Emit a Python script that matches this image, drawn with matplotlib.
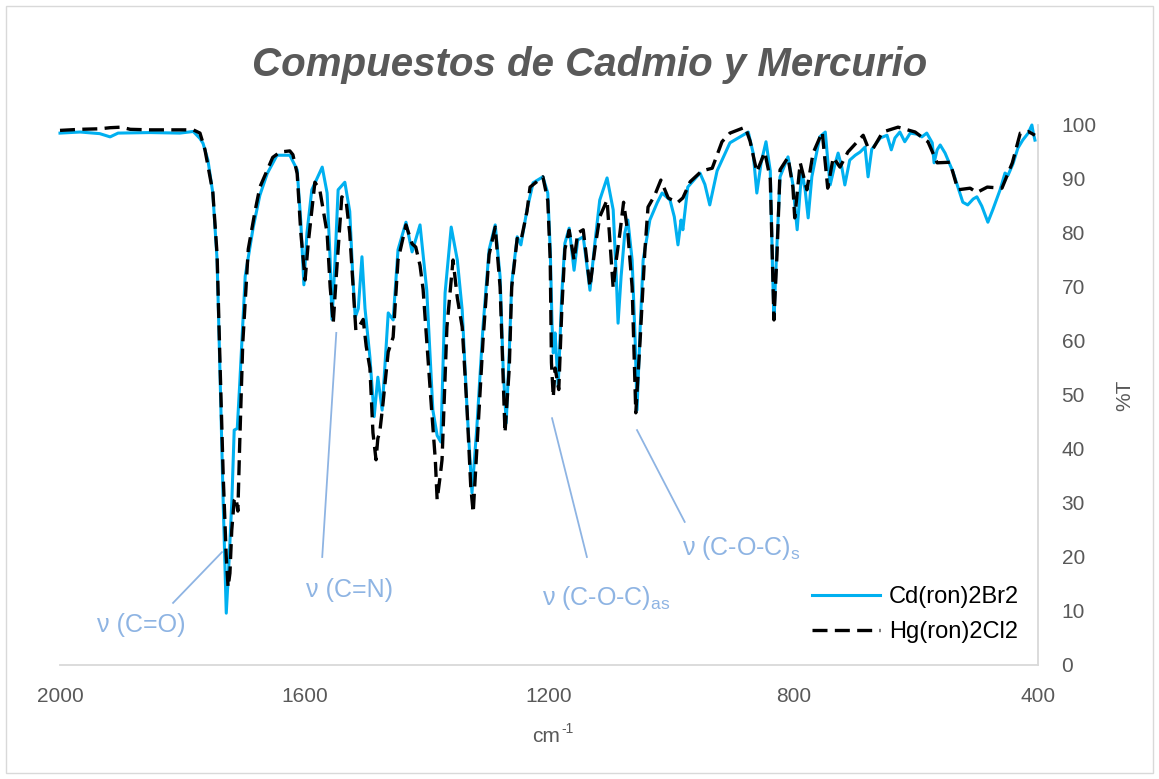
import matplotlib
matplotlib.use("Agg")
import matplotlib.pyplot as plt
from matplotlib.patches import Rectangle

# Cd(ron)2Br2 spectrum (wavenumber, %T)
CD_WN = [2000, 1967, 1935, 1918, 1905, 1853, 1804, 1782, 1771, 1766,
         1758, 1750, 1743, 1738, 1733, 1728, 1724, 1719, 1715, 1710,
         1706, 1697, 1684, 1673, 1661, 1645, 1624, 1612, 1606, 1601,
         1596, 1588, 1571, 1563, 1558, 1555, 1550, 1545, 1534, 1526,
         1521, 1517, 1512, 1506, 1501, 1493, 1486, 1480, 1473, 1463,
         1455, 1447, 1434, 1424, 1411, 1400, 1390, 1383, 1377, 1370,
         1360, 1350, 1342, 1334, 1326, 1318, 1308, 1298, 1288, 1280,
         1275, 1270, 1265, 1261, 1252, 1246, 1236, 1226, 1210, 1202,
         1198, 1195, 1193, 1190, 1185, 1179, 1174, 1167, 1159, 1153,
         1144, 1138, 1133, 1125, 1117, 1105, 1095, 1090, 1087, 1082,
         1076, 1071, 1064, 1059, 1056, 1051, 1046, 1035, 1023, 1015,
         1002, 995, 989, 984, 981, 973, 953, 945, 937, 925,
         904, 874, 866, 860, 853, 845, 838, 834, 832, 827,
         822, 809, 801, 794, 789, 786, 781, 776, 770, 757,
         748, 744, 740, 732, 727, 721, 716, 708, 699, 691,
         683, 678, 672, 658, 647, 640, 634, 626, 618, 609,
         598, 590, 582, 573, 570, 565, 560, 552, 539, 531,
         523, 515, 506, 500, 492, 482, 474, 462, 454, 449,
         441, 433, 425, 416, 410, 408, 405]
CD_T = [98.5, 98.7, 98.4, 97.8, 98.5, 98.6, 98.5, 98.8, 97.5, 96.6,
        93.5, 87.4, 75, 53, 30, 9.6, 18, 30, 43.5, 43.8,
        52, 72, 81, 87, 91, 94.4, 94.4, 91.7, 82, 70.4,
        80, 88, 92.2, 87.4, 75, 64, 75, 88, 89.4, 84,
        72, 64.4, 66, 75.6, 66, 57, 46, 53.3, 47.2, 65.2,
        63.9, 76.9, 82, 76.5, 81.5, 69.4, 47.2, 42.5, 41.3, 68.9,
        81.1, 75, 65.7, 47.2, 31.9, 44.1, 62.6, 76.9, 81.5, 71.9,
        55, 44.8, 58, 70.7, 79.3, 77.8, 84.3, 89.3, 90.4, 87.4,
        77, 63, 57.8, 61.5, 51.5, 68.9, 78.1, 80.9, 73.1, 78.7,
        79.3, 74, 69.4, 78.1, 86.1, 90.2, 84.3, 72, 63.3, 72,
        80, 82.4, 75, 60, 47.2, 62, 75, 82.4, 85.6, 87.4,
        86.1, 83, 77.8, 82.4, 80.6, 88.5, 91.1, 89, 85.2, 91.5,
        96.7, 98.7, 94.8, 87.4, 93, 96.9, 91.5, 72, 64.5, 78,
        90.4, 94.1, 89, 80.6, 88, 91.3, 88, 82.8, 90.4, 97.8,
        98.7, 93.5, 88.9, 92.8, 94.8, 92.2, 88.9, 93.5, 94.4, 95,
        95.9, 90.4, 95.5, 97.6, 98.1, 95.4, 97.6, 98.7, 96.9, 98.5,
        98.3, 97.8, 98.5, 96.7, 93, 95.4, 96.3, 94.8, 91.3, 88.5,
        85.7, 85.2, 86.3, 86.7, 85, 82, 84.3, 88, 91.1, 90.7,
        92.8, 95.7, 97.2, 98.5, 100, 98.7, 97.2]

# Hg(ron)2Cl2 spectrum (wavenumber, %T)
HG_WN = [2000, 1967, 1935, 1918, 1900, 1885, 1853, 1782, 1771, 1763,
         1750, 1743, 1738, 1733, 1728, 1725, 1722, 1719, 1715, 1712,
         1709, 1706, 1701, 1692, 1681, 1673, 1652, 1640, 1624, 1619,
         1612, 1606, 1599, 1594, 1583, 1575, 1563, 1558, 1553, 1548,
         1539, 1532, 1526, 1516, 1509, 1504, 1499, 1493, 1488, 1483,
         1480, 1477, 1472, 1463, 1455, 1447, 1434, 1424, 1418, 1411,
         1406, 1392, 1386, 1383, 1378, 1375, 1367, 1357, 1350, 1342,
         1334, 1328, 1324, 1318, 1308, 1298, 1288, 1280, 1272, 1265,
         1261, 1252, 1246, 1236, 1231, 1210, 1202, 1198, 1196, 1193,
         1190, 1184, 1179, 1174, 1167, 1159, 1153, 1144, 1133, 1125,
         1117, 1105, 1095, 1090, 1084, 1078, 1071, 1064, 1058, 1051,
         1043, 1038, 1027, 1017, 1005, 990, 981, 969, 950, 933,
         917, 904, 879, 871, 860, 847, 838, 832, 827, 822,
         809, 801, 798, 789, 778, 768, 753, 744, 735, 724,
         711, 686, 678, 670, 654, 629, 601, 580, 565, 544,
         531, 511, 500, 483, 459, 442, 429, 416, 405]
HG_T = [99.0, 99.2, 99.3, 99.5, 99.6, 99.2, 99.1, 99.1, 98.5, 95.5,
        87.6, 76, 55, 35, 20, 14.4, 17, 25, 30.5, 31,
        28.5, 41, 59.6, 77, 84, 88.5, 94, 95, 95.2, 94.5,
        91, 80, 71.3, 78, 89.4, 88, 80, 70, 63.3, 72,
        86.7, 86, 80, 62, 63, 64, 59, 55, 43, 38,
        42, 43, 48, 58, 60.7, 75, 81.5, 78, 77.4, 74,
        69.6, 47.2, 38, 30.6, 35, 38, 62.6, 75, 68, 62.6,
        47.2, 33, 28.2, 40, 60, 76, 81.1, 70, 43, 55,
        70, 79, 78.5, 84, 88.5, 90.4, 86, 75, 56, 49.6,
        55, 51, 66, 77, 80.5, 75, 80, 80.6, 70, 77,
        83, 86.1, 69.8, 75, 80, 85.7, 80, 70, 46.7, 60,
        77, 84.8, 87, 89.8, 86.5, 85.6, 86.5, 89.5, 91.5, 92,
        96.9, 98.5, 99.6, 97, 91.3, 95, 90, 63.9, 76, 91.7,
        94, 88.5, 82.8, 93, 88, 94.8, 98.7, 88.3, 94, 92.2,
        95, 98.1, 95.8, 95.6, 98.7, 99.6, 98.7, 96.9, 93, 93.1,
        88, 88.3, 87.5, 88.5, 88.3, 93, 98.5, 98.8, 98.1]

X_TICKS = [2000, 1600, 1200, 800, 400]
Y_TICKS = list(range(0, 101, 10))

CYAN = "#00B0F0"
NOTE = "#8EB4E3"
GRAY = "#595959"
AXIS = "#D9D9D9"

assert len(CD_WN) == len(CD_T) and len(HG_WN) == len(HG_T)

plt.rcParams["font.family"] = ["Liberation Sans", "DejaVu Sans"]
plt.rcParams["mathtext.default"] = "regular"

fig = plt.figure(figsize=(11.59, 7.79), dpi=100)
ax = fig.add_axes([60 / 1159, 1 - 665 / 779, 978 / 1159, 540 / 779])

ax.plot(CD_WN, CD_T, color=CYAN, lw=2.2, label="Cd(ron)2Br2",
        solid_joinstyle="round", zorder=3)
ax.plot(HG_WN, HG_T, color="black", lw=2.4, ls=(0, (4.5, 2.2)),
        label="Hg(ron)2Cl2", zorder=4)

ax.set_xlim(2000, 400)
ax.set_ylim(0, 100)
ax.set_xticks(X_TICKS)
ax.set_xticklabels([str(t) for t in X_TICKS])
ax.set_yticks(Y_TICKS)
ax.yaxis.tick_right()
ax.tick_params(axis="x", length=0, pad=16, labelsize=15, labelcolor=GRAY)
ax.tick_params(axis="y", length=0, pad=17, labelsize=15, labelcolor=GRAY)
for side in ("top", "left"):
    ax.spines[side].set_visible(False)
for side in ("bottom", "right"):
    ax.spines[side].set_color(AXIS)
    ax.spines[side].set_linewidth(1.3)
for ln in ax.lines:
    ln.set_clip_on(False)

# band assignments
notes = [
    # (text, text x, text y, ha, line from, line to)
    ("ν (C=O)", 1867, 7.4, "center", (1815, 11.5), (1735, 20.9)),
    ("ν (C=N)", 1526, 13.9, "center", (1571, 20.0), (1548, 61.5)),
    ("ν (C-O-C)$_{as}$", 1212, 12.4, "left", (1138, 20.0), (1195, 45.7)),
    ("ν (C-O-C)$_{s}$", 983, 21.7, "left", (978, 26.5), (1056, 43.5)),
]
for txt, tx, ty, ha, p0, p1 in notes:
    ax.plot([p0[0], p1[0]], [p0[1], p1[1]], color=NOTE, lw=1.3, zorder=2)
    ax.text(tx, ty, txt, color=NOTE, fontsize=18, ha=ha, va="center")

ax.legend(loc="upper left", bbox_to_anchor=(812 / 1159, 1 - 586 / 779),
          bbox_transform=fig.transFigure, frameon=False, fontsize=17,
          handlelength=2.9, handletextpad=0.35, labelspacing=0.55,
          borderpad=0, borderaxespad=0)

fig.text(590 / 1159, 1 - 65 / 779, "Compuestos de Cadmio y Mercurio",
         ha="center", va="center", fontsize=29, style="italic",
         weight="bold", color=GRAY)
fig.text(560 / 1159, 1 - 737 / 779, "cm", ha="right", va="center",
         fontsize=15, color=GRAY)
fig.text(561 / 1159, 1 - 729 / 779, "-1", ha="left", va="center",
         fontsize=10, color=GRAY)
fig.text(1125 / 1159, 1 - 395 / 779, "%T", ha="center", va="center",
         rotation=90, fontsize=15, color=GRAY)

fig.patches.append(Rectangle((6 / 1159, 6 / 779), 1147 / 1159, 767 / 779,
                             transform=fig.transFigure, fill=False,
                             edgecolor=AXIS, lw=1.0))

fig.savefig("out.png", dpi=100)
